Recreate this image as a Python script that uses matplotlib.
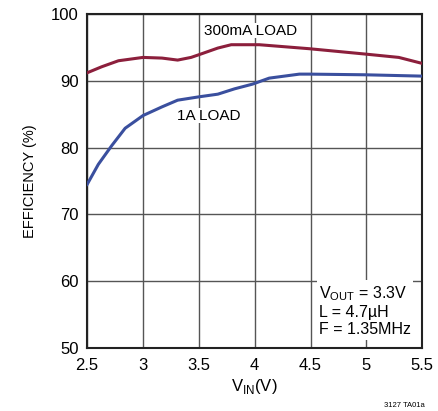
import matplotlib
matplotlib.use('Agg')
import matplotlib.pyplot as plt

plt.rcParams['font.family'] = ['Liberation Sans', 'DejaVu Sans']
plt.rcParams['mathtext.fontset'] = 'custom'
plt.rcParams['mathtext.rm'] = 'Liberation Sans'

# input voltage (V) and efficiency (%)
vin_300ma = [2.5, 2.63, 2.78, 3.0, 3.17, 3.31, 3.43, 3.5, 3.67, 3.79, 3.97,
             4.04, 4.49, 4.99, 5.29, 5.5]
eff_300ma = [91.2, 92.1, 93.0, 93.5, 93.4, 93.1, 93.5, 93.9, 94.9, 95.4, 95.4,
             95.4, 94.8, 94.0, 93.5, 92.6]

vin_1a = [2.5, 2.6, 2.72, 2.84, 3.0, 3.17, 3.31, 3.5, 3.67, 3.82, 3.98,
          4.13, 4.4, 4.49, 4.99, 5.5]
eff_1a = [74.5, 77.5, 80.3, 82.9, 84.8, 86.1, 87.1, 87.6, 88.0, 88.8, 89.5,
          90.4, 91.0, 91.0, 90.9, 90.7]

xticks = [2.5, 3, 3.5, 4, 4.5, 5, 5.5]
xticklabels = ['2.5', '3', '3.5', '4', '4.5', '5', '5.5']
yticks = [50, 60, 70, 80, 90, 100]

fig = plt.figure(figsize=(4.38, 4.11), dpi=100)
ax = fig.add_axes([0.199, 0.153, 0.765, 0.813])

ax.plot(vin_300ma, eff_300ma, color='#8c1f3c', lw=2.2, zorder=3)
ax.plot(vin_1a, eff_1a, color='#3a4f9e', lw=2.2, zorder=3)

ax.set_xlim(2.5, 5.5)
ax.set_ylim(50, 100)
ax.set_xticks(xticks)
ax.set_xticklabels(xticklabels)
ax.set_yticks(yticks)
ax.tick_params(length=0, labelsize=12)
ax.tick_params(axis='x', pad=7)
ax.tick_params(axis='y', pad=6)
ax.grid(True, color='#555555', lw=1.0)
ax.set_axisbelow(True)
for s in ax.spines.values():
    s.set_linewidth(1.5)
    s.set_color('#222222')

ax.set_ylabel('EFFICIENCY (%)', fontsize=10.5, labelpad=10)
ax.set_xlabel(r'V$_{\mathregular{IN}}$(V)', fontsize=12, labelpad=3)

ax.text(3.55, 97.5, '300mA LOAD', fontsize=11, va='center', ha='left',
        bbox=dict(fc='white', ec='none', pad=0.5), zorder=4)
ax.text(3.30, 84.8, '1A LOAD', fontsize=11, va='center', ha='left',
        bbox=dict(fc='white', ec='none', pad=0.5), zorder=4)
ax.text(4.58, 55.6, 'V$_{\\mathregular{OUT}}$ = 3.3V\nL = 4.7µH\nF = 1.35MHz',
        fontsize=11.5, va='center', ha='left', linespacing=1.2,
        bbox=dict(fc='white', ec='none', pad=1.5), zorder=4)

fig.text(0.97, 0.005, '3127 TA01a', fontsize=5.5, ha='right', va='bottom')

fig.savefig('out.png', dpi=100)
